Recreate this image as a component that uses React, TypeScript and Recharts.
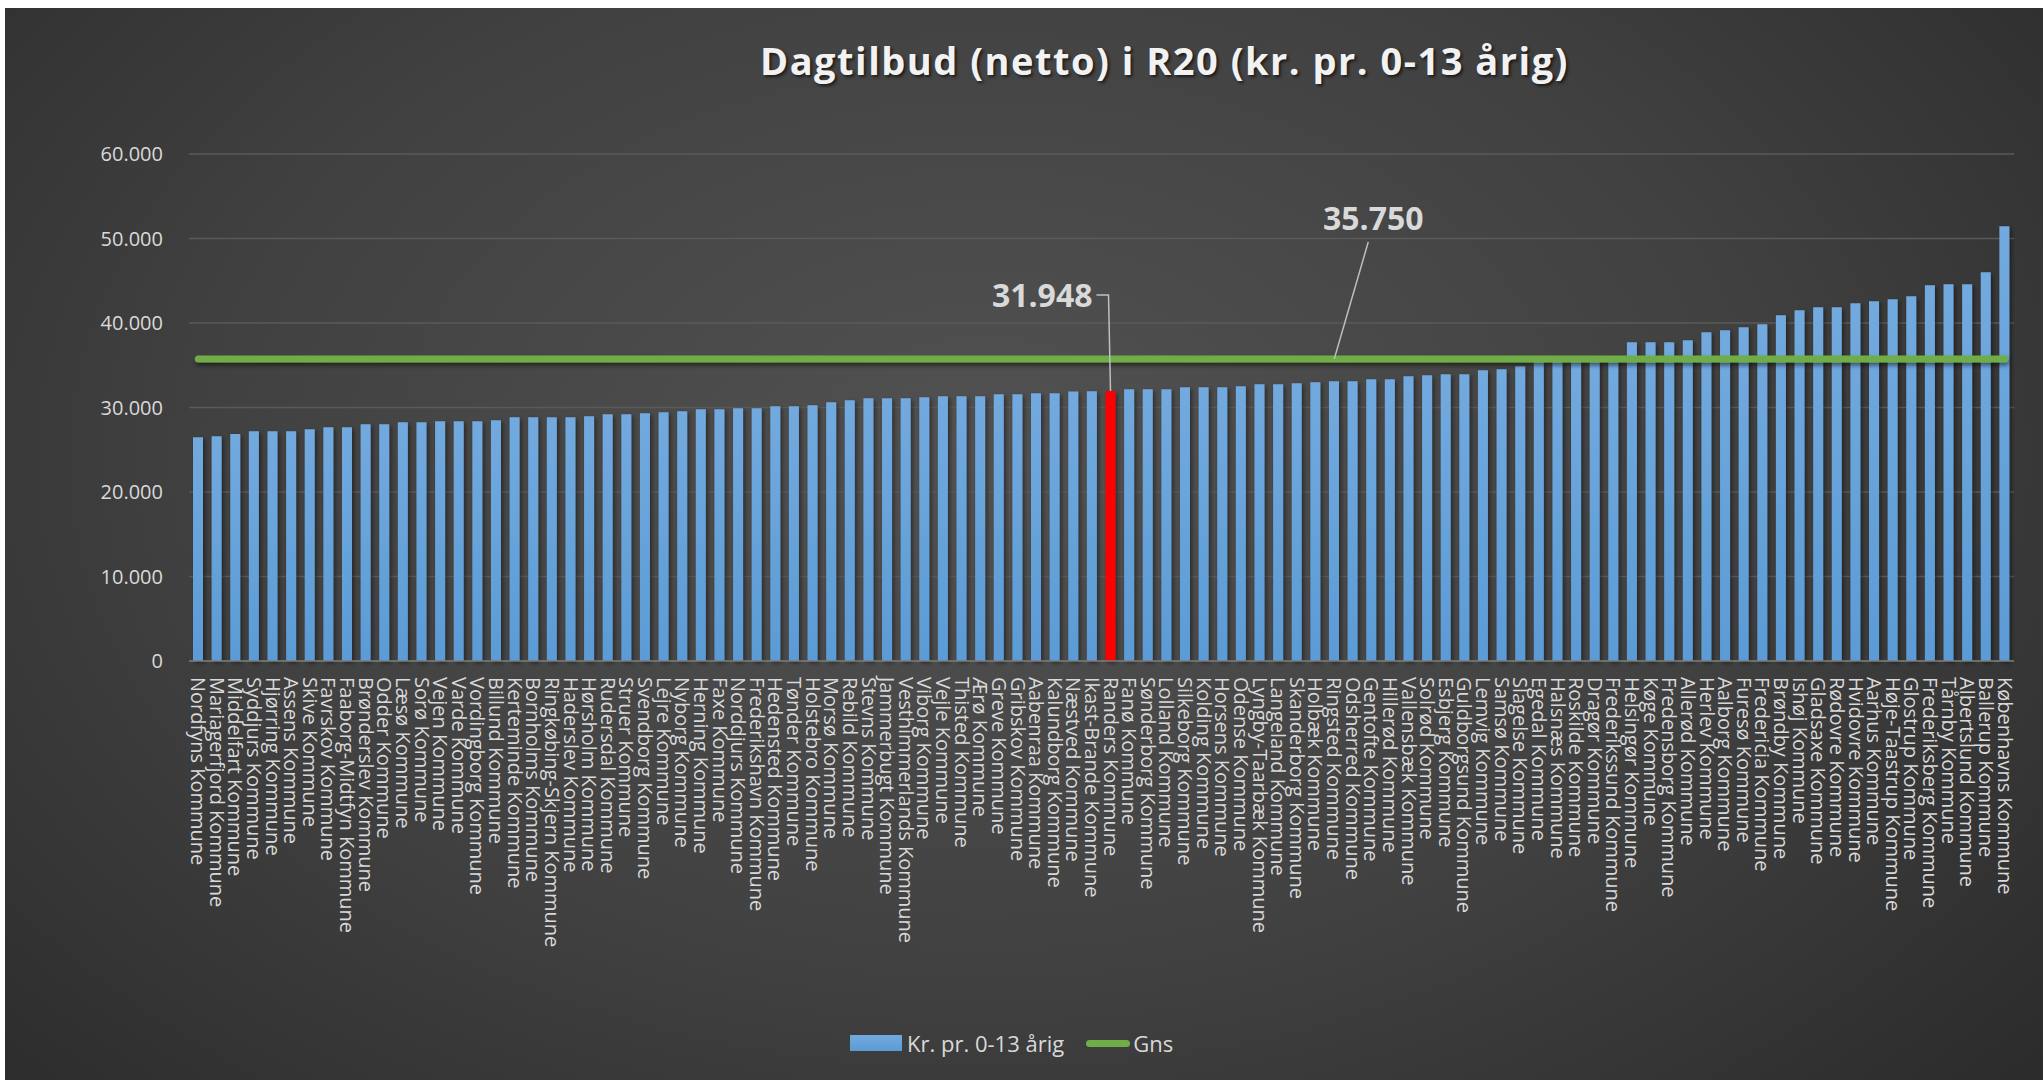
import { ComposedChart, Bar, Line, XAxis, YAxis, CartesianGrid, Cell, LabelList } from "recharts";

const kommuner = [
  "Nordfyns Kommune", "Mariagerfjord Kommune", "Middelfart Kommune", "Syddjurs Kommune", "Hjørring Kommune",
  "Assens Kommune", "Skive Kommune", "Favrskov Kommune", "Faaborg-Midtfyn Kommune", "Brønderslev Kommune",
  "Odder Kommune", "Læsø Kommune", "Sorø Kommune", "Vejen Kommune", "Varde Kommune",
  "Vordingborg Kommune", "Billund Kommune", "Kerteminde Kommune", "Bornholms Kommune", "Ringkøbing-Skjern Kommune",
  "Haderslev Kommune", "Hørsholm Kommune", "Rudersdal Kommune", "Struer Kommune", "Svendborg Kommune",
  "Lejre Kommune", "Nyborg Kommune", "Herning Kommune", "Faxe Kommune", "Norddjurs Kommune",
  "Frederikshavn Kommune", "Hedensted Kommune", "Tønder Kommune", "Holstebro Kommune", "Morsø Kommune",
  "Rebild Kommune", "Stevns Kommune", "Jammerbugt Kommune", "Vesthimmerlands Kommune", "Viborg Kommune",
  "Vejle Kommune", "Thisted Kommune", "Ærø Kommune", "Greve Kommune", "Gribskov Kommune",
  "Aabenraa Kommune", "Kalundborg Kommune", "Næstved Kommune", "Ikast-Brande Kommune", "Randers Kommune",
  "Fanø Kommune", "Sønderborg Kommune", "Lolland Kommune", "Silkeborg Kommune", "Kolding Kommune",
  "Horsens Kommune", "Odense Kommune", "Lyngby-Taarbæk Kommune", "Langeland Kommune", "Skanderborg Kommune",
  "Holbæk Kommune", "Ringsted Kommune", "Odsherred Kommune", "Gentofte Kommune", "Hillerød Kommune",
  "Vallensbæk Kommune", "Solrød Kommune", "Esbjerg Kommune", "Guldborgsund Kommune", "Lemvig Kommune",
  "Samsø Kommune", "Slagelse Kommune", "Egedal Kommune", "Halsnæs Kommune", "Roskilde Kommune",
  "Dragør Kommune", "Frederikssund Kommune", "Helsingør Kommune", "Køge Kommune", "Fredensborg Kommune",
  "Allerød Kommune", "Herlev Kommune", "Aalborg Kommune", "Furesø Kommune", "Fredericia Kommune",
  "Brøndby Kommune", "Ishøj Kommune", "Gladsaxe Kommune", "Rødovre Kommune", "Hvidovre Kommune",
  "Aarhus Kommune", "Høje-Taastrup Kommune", "Glostrup Kommune", "Frederiksberg Kommune", "Tårnby Kommune",
  "Albertslund Kommune", "Ballerup Kommune", "Københavns Kommune",
];

const krPrBarn = [
  26490, 26610, 26850, 27200, 27200, 27200, 27440, 27670, 27670, 28030,
  28030, 28260, 28260, 28380, 28380, 28380, 28500, 28850, 28850, 28850,
  28850, 28970, 29210, 29210, 29330, 29450, 29560, 29800, 29800, 29920,
  29920, 30160, 30160, 30270, 30630, 30870, 31100, 31100, 31100, 31220,
  31340, 31340, 31340, 31570, 31570, 31690, 31690, 31900, 31920, 31948,
  32170, 32170, 32170, 32400, 32400, 32400, 32520, 32760, 32760, 32880,
  32990, 33110, 33110, 33350, 33350, 33700, 33820, 33940, 33940, 34410,
  34530, 34890, 35400, 35500, 35600, 35800, 36000, 37730, 37730, 37730,
  37960, 38910, 39140, 39500, 39850, 40920, 41510, 41860, 41860, 42340,
  42570, 42810, 43160, 44470, 44580, 44580, 46000, 51440,
];

const gns = 35750;
const fremhaevet = "Randers Kommune";
const gnsLabelKommune = "Ringsted Kommune";
const yTicks = [0, 10000, 20000, 30000, 40000, 50000, 60000];

const data = kommuner.map((navn, i) => ({ navn, kr: krPrBarn[i], gns }));

const FONT = "'Open Sans', sans-serif";
const TXT = "#d9d9d9";
const W = 2038;
const H = 1072;

function fmt(v: number): string {
  return String(v).replace(/\B(?=(\d{3})+(?!\d))/g, ".");
}

function KommuneTick({ x, y, payload }: any) {
  return (
    <text
      x={x}
      y={y}
      dy="0.36em"
      transform={`rotate(90, ${x}, ${y})`}
      textAnchor="start"
      fill={TXT}
      fontSize={20}
      fontFamily={FONT}
    >
      {payload.value}
    </text>
  );
}

function RandersNote(props: any) {
  const { x, y, width, index } = props;
  if (kommuner[index] !== fremhaevet) return null;
  const cx = x + width / 2;
  const ty = y - 96;
  return (
    <g>
      <polyline points={`${cx},${y} ${cx - 2},${ty} ${cx - 14},${ty}`} fill="none" stroke="#bfbfbf" strokeWidth={1.5} />
      <text x={cx - 18} y={ty} dy="0.36em" textAnchor="end" fill={TXT} fontSize={32} fontWeight={700} fontFamily={FONT}>
        {fmt(krPrBarn[index])}
      </text>
    </g>
  );
}

function GnsNote(props: any) {
  const { x, y, index } = props;
  if (kommuner[index] !== gnsLabelKommune) return null;
  return (
    <g>
      <line x1={x} y1={y} x2={x + 34} y2={y - 117} stroke="#bfbfbf" strokeWidth={1.5} />
      <text x={x + 39} y={y - 140} dy="0.36em" textAnchor="middle" fill={TXT} fontSize={32} fontWeight={700} fontFamily={FONT}>
        {fmt(gns)}
      </text>
    </g>
  );
}

export default function App() {
  return (
    <div
      style={{
        position: "absolute",
        left: 5,
        top: 8,
        width: W,
        height: H,
        overflow: "hidden",
        fontFamily: FONT,
        background: "radial-gradient(ellipse 75% 95% at 48% 42%, #525252 0%, #414141 50%, #272727 100%)",
      }}
    >
      <div
        style={{
          position: "absolute",
          left: 755,
          top: 33,
          fontSize: 38,
          lineHeight: "38px",
          fontWeight: 700,
          letterSpacing: 1.5,
          color: "#f2f2f2",
          textShadow: "2px 2px 3px rgba(0,0,0,0.6)",
          whiteSpace: "nowrap",
        }}
      >
        Dagtilbud (netto) i R20 (kr. pr. 0-13 årig)
      </div>

      <ComposedChart width={W} height={H} data={data} margin={{ top: 146, right: 29, left: 0, bottom: 0 }}>
        <defs>
          <linearGradient id="barFill" x1="0" y1="0" x2="0" y2="1">
            <stop offset="0%" stopColor="#72aadf" />
            <stop offset="100%" stopColor="#5b9bd5" />
          </linearGradient>
          <filter id="skygge" x="-50%" y="-10%" width="200%" height="130%">
            <feDropShadow dx="2" dy="2" stdDeviation="2" floodColor="#000" floodOpacity="0.45" />
          </filter>
          <filter id="linjeSkygge" filterUnits="userSpaceOnUse" x={0} y={0} width={W} height={H}>
            <feDropShadow dx="1" dy="3" stdDeviation="2" floodColor="#000" floodOpacity="0.5" />
          </filter>
        </defs>
        <CartesianGrid vertical={false} stroke="#5a5a5a" strokeWidth={1.5} />
        <XAxis
          dataKey="navn"
          interval={0}
          height={419}
          tickLine={false}
          tickSize={0}
          tickMargin={16}
          axisLine={{ stroke: "#7a7a7a", strokeWidth: 1.5 }}
          tick={<KommuneTick />}
        />
        <YAxis
          width={184}
          domain={[0, 60000]}
          ticks={yTicks}
          tickFormatter={fmt}
          axisLine={false}
          tickLine={false}
          tickSize={0}
          tickMargin={26}
          tick={{ fill: TXT, fontSize: 20, fontFamily: FONT }}
        />
        <Bar dataKey="kr" name="Kr. pr. 0-13 årig" barSize={10} fill="url(#barFill)" filter="url(#skygge)" isAnimationActive={false}>
          {data.map((d) => (
            <Cell key={d.navn} fill={d.navn === fremhaevet ? "#ff0000" : "url(#barFill)"} />
          ))}
          <LabelList dataKey="kr" content={<RandersNote />} />
        </Bar>
        <Line
          dataKey="gns"
          name="Gns"
          stroke="#70ad47"
          strokeWidth={7}
          strokeLinecap="round"
          dot={false}
          activeDot={false}
          filter="url(#linjeSkygge)"
          isAnimationActive={false}
        >
          <LabelList dataKey="gns" content={<GnsNote />} />
        </Line>
      </ComposedChart>

      <div
        style={{
          position: "absolute",
          left: 845,
          top: 1019,
          height: 32,
          display: "flex",
          alignItems: "center",
          color: TXT,
          fontSize: 22,
          whiteSpace: "nowrap",
        }}
      >
        <span style={{ display: "inline-block", width: 52, height: 16, background: "linear-gradient(#72aadf, #5b9bd5)" }} />
        <span style={{ marginLeft: 5 }}>Kr. pr. 0-13 årig</span>
        <span style={{ display: "inline-block", width: 44, height: 7, borderRadius: 4, background: "#70ad47", marginLeft: 22 }} />
        <span style={{ marginLeft: 3 }}>Gns</span>
      </div>
    </div>
  );
}
